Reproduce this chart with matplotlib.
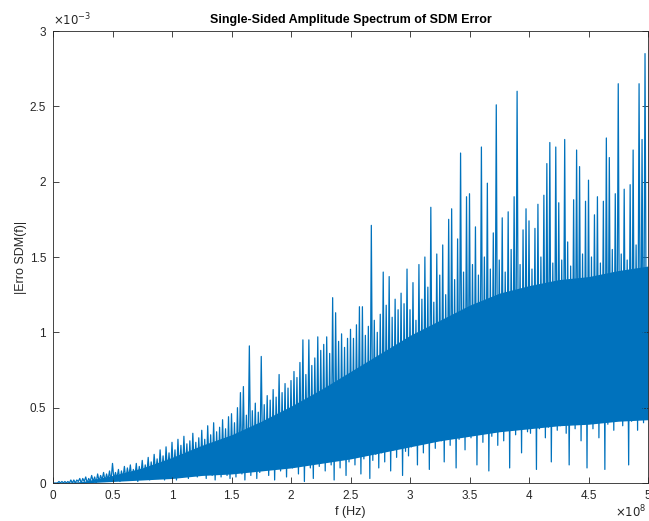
import matplotlib
matplotlib.use("Agg")
import matplotlib.pyplot as plt
from matplotlib.ticker import FuncFormatter, MultipleLocator
import numpy as np

# spectrum: per 0.025e8 Hz bin, the top and bottom of the trace (units of 1e-3)
amp_top = [
    0.00, 0.00, 0.01, 0.01, 0.01, 0.01, 0.02, 0.02, 0.02, 0.03,
    0.03, 0.04, 0.03, 0.05, 0.04, 0.06, 0.05, 0.07, 0.06, 0.08,
    0.13, 0.07, 0.09, 0.08, 0.11, 0.10, 0.12, 0.09, 0.13, 0.11,
    0.15, 0.12, 0.17, 0.14, 0.19, 0.16, 0.22, 0.18, 0.24, 0.20,
    0.27, 0.22, 0.29, 0.25, 0.31, 0.26, 0.28, 0.33, 0.27, 0.30,
    0.35, 0.29, 0.38, 0.32, 0.40, 0.34, 0.37, 0.42, 0.36, 0.44,
    0.46, 0.40, 0.50, 0.60, 0.64, 0.45, 0.91, 0.48, 0.53, 0.47,
    0.84, 0.52, 0.58, 0.55, 0.62, 0.57, 0.72, 0.60, 0.66, 0.63,
    0.68, 0.74, 0.70, 0.80, 0.95, 0.72, 0.95, 0.78, 0.83, 0.97,
    0.88, 0.92, 0.97, 0.86, 1.23, 1.13, 0.94, 0.99, 0.90, 0.96,
    1.02, 0.96, 1.05, 1.17, 1.17, 0.98, 1.04, 1.71, 1.08, 1.00,
    1.12, 1.40, 1.18, 1.37, 1.10, 1.22, 1.15, 1.26, 1.19, 1.42,
    1.15, 1.33, 1.08, 1.45, 1.22, 1.50, 1.30, 1.83, 1.20, 1.52,
    1.38, 1.58, 1.25, 1.75, 1.82, 1.35, 1.62, 2.19, 1.40, 1.90,
    1.92, 1.45, 1.70, 1.38, 2.23, 1.50, 1.99, 1.42, 1.66, 2.51,
    1.48, 1.76, 1.40, 1.80, 1.55, 1.90, 2.60, 1.45, 1.68, 1.82,
    1.74, 1.42, 1.69, 1.85, 1.50, 1.91, 2.12, 2.26, 1.46, 2.23,
    1.86, 1.48, 2.28, 1.60, 1.44, 1.88, 2.21, 2.10, 1.52, 1.87,
    2.01, 1.50, 1.78, 1.90, 1.46, 1.87, 2.29, 2.16, 1.55, 1.92,
    2.65, 1.52, 1.95, 1.48, 1.98, 2.21, 1.58, 2.65, 2.28, 2.85,
]
amp_bottom = [
    0.00, 0.00, 0.00, 0.00, 0.00, 0.00, 0.00, 0.00, 0.01, 0.00,
    0.01, 0.00, 0.01, 0.01, 0.00, 0.01, 0.02, 0.01, 0.02, 0.01,
    0.02, 0.03, 0.01, 0.03, 0.02, 0.04, 0.02, 0.03, 0.01, 0.04,
    0.03, 0.05, 0.02, 0.04, 0.06, 0.03, 0.05, 0.02, 0.06, 0.04,
    0.05, 0.02, 0.06, 0.04, 0.07, 0.03, 0.05, 0.08, 0.04, 0.06,
    0.06, 0.03, 0.08, 0.05, 0.02, 0.07, 0.04, 0.09, 0.05, 0.03,
    0.08, 0.04, 0.10, 0.06, 0.02, 0.09, 0.05, 0.11, 0.03, 0.07,
    0.09, 0.12, 0.05, 0.10, 0.02, 0.13, 0.08, 0.11, 0.04, 0.12,
    0.10, 0.14, 0.06, 0.13, 0.01, 0.15, 0.10, 0.03, 0.14, 0.11,
    0.15, 0.08, 0.17, 0.12, 0.02, 0.16, 0.10, 0.18, 0.05, 0.14,
    0.18, 0.12, 0.20, 0.06, 0.16, 0.21, 0.03, 0.15, 0.19, 0.10,
    0.20, 0.14, 0.24, 0.08, 0.22, 0.17, 0.25, 0.05, 0.21, 0.18,
    0.24, 0.30, 0.12, 0.27, 0.20, 0.32, 0.09, 0.28, 0.23, 0.31,
    0.28, 0.14, 0.30, 0.25, 0.33, 0.10, 0.29, 0.32, 0.22, 0.34,
    0.30, 0.35, 0.12, 0.33, 0.27, 0.36, 0.08, 0.31, 0.34, 0.25,
    0.35, 0.28, 0.38, 0.10, 0.36, 0.32, 0.39, 0.20, 0.37, 0.34,
    0.33, 0.38, 0.09, 0.36, 0.40, 0.30, 0.37, 0.14, 0.39, 0.35,
    0.38, 0.41, 0.33, 0.12, 0.40, 0.36, 0.42, 0.28, 0.39, 0.10,
    0.40, 0.36, 0.43, 0.30, 0.41, 0.09, 0.39, 0.42, 0.35, 0.44,
    0.42, 0.38, 0.45, 0.12, 0.41, 0.44, 0.35, 0.43, 0.40, 0.46,
]
bin_width = 0.025e8  # Hz

# the solid, fully inked part of the trace, every 0.25e8 Hz (units of 1e-3)
core_f = [0, 0.25, 0.5, 0.75, 1.0, 1.25, 1.5, 1.75, 2.0, 2.25, 2.5,
          2.75, 3.0, 3.25, 3.5, 3.75, 4.0, 4.25, 4.5, 4.75, 5.0]  # x 1e8 Hz
core_top = [0.0, 0.01, 0.05, 0.10, 0.17, 0.25, 0.32, 0.41, 0.51, 0.62, 0.74,
            0.86, 0.98, 1.08, 1.18, 1.26, 1.31, 1.35, 1.37, 1.41, 1.44]
core_bottom = [0.0, 0.0, 0.01, 0.02, 0.03, 0.05, 0.06, 0.08, 0.10, 0.13, 0.16,
               0.20, 0.24, 0.28, 0.31, 0.34, 0.36, 0.38, 0.39, 0.41, 0.42]

# trace goes top -> bottom inside each bin
n = len(amp_top)
f = np.empty(2 * n)
f[0::2] = np.arange(n) * bin_width
f[1::2] = np.arange(n) * bin_width + bin_width / 2
P1 = np.empty(2 * n)
P1[0::2] = np.array(amp_top) * 1e-3
P1[1::2] = np.array(amp_bottom) * 1e-3

plt.rcParams['font.family'] = ['Liberation Sans', 'DejaVu Sans']
grey = '#262626'
blue = '#0072BD'

fig = plt.figure(figsize=(6.49, 5.21), dpi=100)
ax = fig.add_axes([53 / 649, 38 / 521, 595 / 649, 452 / 521])

ax.fill_between(np.array(core_f) * 1e8, np.array(core_bottom) * 1e-3,
                np.array(core_top) * 1e-3, color=blue, linewidth=0)
ax.plot(f, P1, color=blue, linewidth=0.9)

ax.set_xlim(0, 5e8)
ax.set_ylim(0, 3e-3)
ax.xaxis.set_major_locator(MultipleLocator(0.5e8))
ax.yaxis.set_major_locator(MultipleLocator(0.5e-3))
ax.xaxis.set_major_formatter(FuncFormatter(lambda v, p: '{:g}'.format(round(v / 1e8, 3))))
ax.yaxis.set_major_formatter(FuncFormatter(lambda v, p: '{:g}'.format(round(v / 1e-3, 3))))

ax.tick_params(direction='in', top=True, right=True, length=4, width=0.6,
               colors=grey, labelsize=8.5, pad=5)
for s in ax.spines.values():
    s.set_color(grey)
    s.set_linewidth(0.6)

ax.set_title('Single-Sided Amplitude Spectrum of SDM Error', fontsize=9,
             fontweight='bold', color='black', pad=6)
ax.set_xlabel('f (Hz)', fontsize=9, color=grey, labelpad=3)
ax.set_ylabel('|Erro SDM(f)|', fontsize=9, color=grey, labelpad=2)

# exponent labels the way MATLAB puts them
ax.text(0.0, 1.005, r'$\times10^{-3}$', transform=ax.transAxes, fontsize=8.5,
        color=grey, ha='left', va='bottom')
ax.text(0.997, -0.045, r'$\times10^{8}$', transform=ax.transAxes, fontsize=8.5,
        color=grey, ha='right', va='top')

fig.savefig('out.png', dpi=100)
print("Figure saved!")
